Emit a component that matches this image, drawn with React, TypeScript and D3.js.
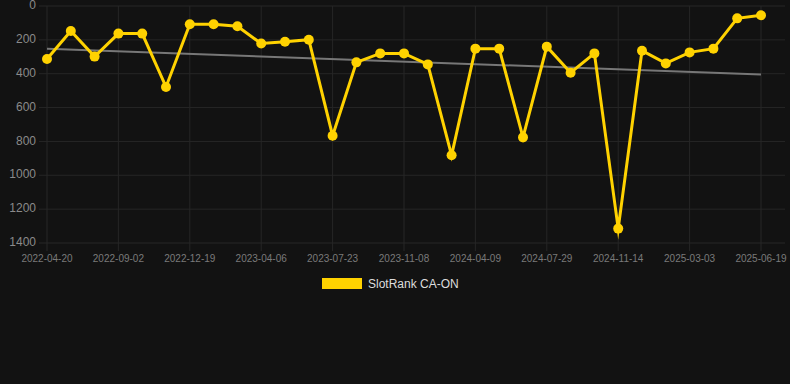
import React from "react";
import * as d3 from "d3";

const categories: string[] = [
  "2022-04-20", "2022-06-04", "2022-07-19", "2022-09-02", "2022-10-08", "2022-11-13",
  "2022-12-19", "2023-01-23", "2023-02-28", "2023-04-06", "2023-05-12", "2023-06-17",
  "2023-07-23", "2023-08-29", "2023-10-03", "2023-11-08", "2023-12-28", "2024-02-18",
  "2024-04-09", "2024-05-15", "2024-06-22", "2024-07-29", "2024-09-02", "2024-10-09",
  "2024-11-14", "2024-12-20", "2025-01-26", "2025-03-03", "2025-04-07", "2025-05-13",
  "2025-06-19",
];

const rankValues: number[] = [
  313, 148, 299, 163, 163, 478, 108, 108, 120, 222, 211, 199, 766, 333, 280, 280,
  345, 882, 252, 252, 776, 240, 394, 280, 1315, 264, 339, 274, 252, 73, 55,
];

const xTickLabels: string[] = [
  "2022-04-20", "2022-09-02", "2022-12-19", "2023-04-06", "2023-07-23", "2023-11-08",
  "2024-04-09", "2024-07-29", "2024-11-14", "2025-03-03", "2025-06-19",
];

const yTicks: number[] = [0, 200, 400, 600, 800, 1000, 1200, 1400];

const seriesName = "SlotRank CA-ON";

export default function App() {
  const W = 790;
  const H = 384;
  const left = 47;
  const right = 761;
  const top = 6;
  const bottom = 243;

  const x = d3.scalePoint<string>().domain(categories).range([left, right]);
  const y = d3.scaleLinear().domain([0, 1400]).range([top, bottom]);

  const idx = rankValues.map((_, i) => i);
  const n = rankValues.length;
  const mx = d3.mean(idx) as number;
  const my = d3.mean(rankValues) as number;
  let num = 0;
  let den = 0;
  idx.forEach((i) => {
    num += (i - mx) * (rankValues[i] - my);
    den += (i - mx) * (i - mx);
  });
  const slope = num / den;
  const intercept = my - slope * mx;
  const trend = [0, n - 1].map((i) => ({ c: categories[i], v: intercept + slope * i }));

  const line = d3
    .line<number>()
    .x((_, i) => x(categories[i]) as number)
    .y((d) => y(d));
  const trendLine = d3
    .line<{ c: string; v: number }>()
    .x((d) => x(d.c) as number)
    .y((d) => y(d.v));

  const font = "'Liberation Sans', Arial, Helvetica, sans-serif";
  const grid = "#262626";

  return (
    <div style={{ position: "fixed", left: 0, top: 0 }}>
      <svg width={W} height={H} style={{ display: "block", background: "#121212" }}>
        <rect x={0} y={0} width={W} height={H} fill="#121212" />
        {yTicks.map((t) => (
          <g key={"y" + t}>
            <line x1={39} x2={785} y1={y(t)} y2={y(t)} stroke={grid} strokeWidth={1} />
            <text
              x={36}
              y={y(t)}
              textAnchor="end"
              dominantBaseline="middle"
              fill="#8a8a8a"
              fontSize={12}
              fontFamily={font}
            >
              {t}
            </text>
          </g>
        ))}
        {xTickLabels.map((lab) => (
          <g key={"x" + lab}>
            <line
              x1={x(lab) as number}
              x2={x(lab) as number}
              y1={top}
              y2={251}
              stroke={grid}
              strokeWidth={1}
            />
            <text
              x={x(lab) as number}
              y={259}
              textAnchor="middle"
              dominantBaseline="middle"
              fill="#7a7a7a"
              fontSize={10}
              fontFamily={font}
            >
              {lab}
            </text>
          </g>
        ))}
        <path d={trendLine(trend) || ""} fill="none" stroke="#777777" strokeWidth={2} />
        <path
          d={line(rankValues) || ""}
          fill="none"
          stroke="#FFD200"
          strokeWidth={3}
          strokeLinejoin="miter"
          strokeMiterlimit={10}
        />
        {rankValues.map((v, i) => (
          <circle key={"p" + i} cx={x(categories[i]) as number} cy={y(v)} r={5} fill="#FFD200" />
        ))}
        <rect x={322} y={278} width={40} height={11} fill="#FFD200" />
        <text
          x={368}
          y={284.5}
          dominantBaseline="middle"
          fill="#dddddd"
          fontSize={12}
          fontFamily={font}
        >
          {seriesName}
        </text>
      </svg>
    </div>
  );
}
